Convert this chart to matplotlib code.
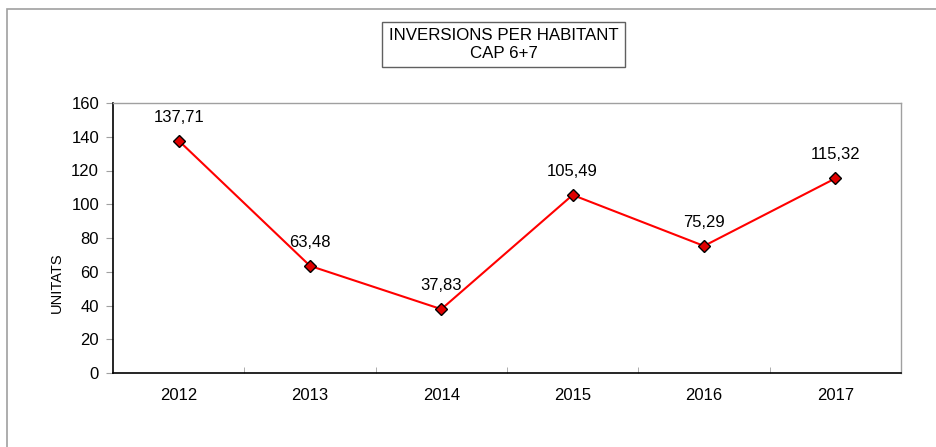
import matplotlib
matplotlib.use("Agg")
import matplotlib.pyplot as plt
from matplotlib.patches import Rectangle

plt.rcParams['font.family'] = ['Liberation Sans', 'DejaVu Sans']

years = ["2012", "2013", "2014", "2015", "2016", "2017"]
values = [137.71, 63.48, 37.83, 105.49, 75.29, 115.32]
labels = ["137,71", "63,48", "37,83", "105,49", "75,29", "115,32"]
title_lines = ["INVERSIONS PER HABITANT", "CAP 6+7"]
ylabel = "UNITATS"

W, H = 937, 447
fig = plt.figure(figsize=(W / 100, H / 100), dpi=100)
ax = fig.add_axes([113 / W, 1 - 373 / H, (901 - 113) / W, (373 - 103) / H])

x = list(range(len(years)))
ax.plot(x, values, color='#ff0000', lw=1.5, zorder=3)
ax.plot(x, values, ls='none', marker='D', ms=6, mfc='#e00000', mec='black', mew=1.0, zorder=4)
for xi, v, lab in zip(x, values, labels):
    ax.annotate(lab, (xi, v), xytext=(0, 17), textcoords='offset points',
                ha='center', va='center', fontsize=12)

ax.set_xlim(-0.5, len(years) - 0.5)
ax.set_ylim(0, 160)
ax.set_yticks(range(0, 161, 20))
ax.set_xticks(x)
ax.set_xticklabels(years)
ax.set_xticks([i + 0.5 for i in range(len(years) - 1)], minor=True)
ax.tick_params(axis='x', which='major', length=0, pad=11, labelsize=12)
ax.tick_params(axis='x', which='minor', direction='in', length=4, color='#a0a0a0')
ax.tick_params(axis='y', direction='out', length=5, color='#a0a0a0', labelsize=12, pad=5)

for s in ['left', 'bottom']:
    ax.spines[s].set_color('black')
    ax.spines[s].set_linewidth(1.2)
for s in ['top', 'right']:
    ax.spines[s].set_color('#a0a0a0')
    ax.spines[s].set_linewidth(1.0)

fig.text(57 / W, 1 - 283 / H, ylabel, rotation=90, ha='center', va='center', fontsize=10.5)

# title box
fig.patches.append(Rectangle((382 / W, 1 - 67 / H), (625 - 382) / W, (67 - 22) / H,
                             transform=fig.transFigure, fill=False, ec='#606060', lw=1.0))
fig.text(503.5 / W, 1 - 36 / H, title_lines[0], ha='center', va='center', fontsize=12.2)
fig.text(503.5 / W, 1 - 54 / H, title_lines[1], ha='center', va='center', fontsize=12.2)

# outer frame
fig.patches.append(Rectangle((7 / W, -0.1), 1.2, 1 - 9 / H + 0.1, transform=fig.transFigure,
                             fill=False, ec='#a0a0a0', lw=1.2))

fig.savefig("out.png", dpi=100)
